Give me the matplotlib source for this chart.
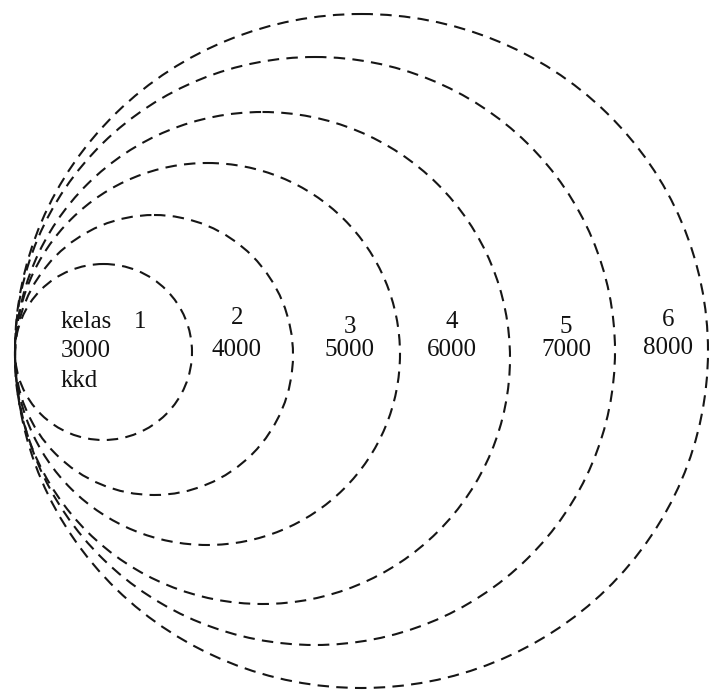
import matplotlib.pyplot as plt
from matplotlib.patches import Ellipse

# === Données ===
kelas = [1, 2, 3, 4, 5, 6]
kkd = [3000, 4000, 5000, 6000, 7000, 8000]
# bord droit et demi-hauteur de chaque cercle (pixels)
bord_droit = [192, 293, 400, 510, 615, 708]
demi_haut = [88, 140, 191, 246, 294, 337]
centre_y = [352, 355, 354, 358, 351, 351]
# position des étiquettes
label_x = [140, 237, 350, 452, 566, 668]
label_y_num = [322, 318, 327, 322, 327, 320]
label_y_val = [350, 350, 350, 350, 350, 348]

GAUCHE = 15

fig = plt.figure(figsize=(7.11, 6.91), dpi=100)
ax = fig.add_axes([0, 0, 1, 1])
ax.set_xlim(0, 711)
ax.set_ylim(691, 0)
ax.axis("off")

for right, hh, cy in zip(bord_droit, demi_haut, centre_y):
    w = right - GAUCHE
    e = Ellipse(((GAUCHE + right) / 2, cy), w, 2 * hh, fill=False,
                edgecolor="#161616", linewidth=1.5, linestyle=(0, (5.5, 3.5)))
    ax.add_patch(e)

font = dict(family=["Liberation Serif", "DejaVu Serif"], fontsize=18, color="#111111")

# cercle 1 : texte particulier
ax.text(61, 322, "kelas", ha="left", va="center", **font)
ax.text(label_x[0], label_y_num[0], str(kelas[0]), ha="center", va="center", **font)
ax.text(61, 351, str(kkd[0]), ha="left", va="center", **font)
ax.text(61, 381, "kkd", ha="left", va="center", **font)

for k, v, x, yn, yv in zip(kelas[1:], kkd[1:], label_x[1:], label_y_num[1:], label_y_val[1:]):
    ax.text(x, yn, str(k), ha="center", va="center", **font)
    ax.text(x, yv, str(v), ha="center", va="center", **font)

fig.savefig("out.png", dpi=100)
